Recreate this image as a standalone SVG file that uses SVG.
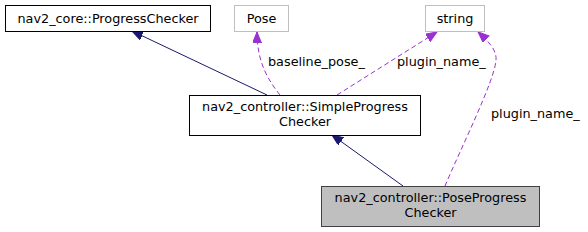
<svg xmlns="http://www.w3.org/2000/svg" width="588" height="232" viewBox="0 0 588 232">
<style>
text{font-family:"DejaVu Sans",sans-serif;font-size:12.8px;fill:#000}
.n{text-anchor:middle}
.box{fill:#fff;stroke:#000;stroke-width:1}
.ext{fill:#fff;stroke:#bfbfbf;stroke-width:1}
.cur{fill:#bfbfbf;stroke:#404040;stroke-width:1}
.inh{fill:none;stroke:#191970;stroke-width:1;marker-end:url(#an)}
.use{fill:none;stroke:#9a32cd;stroke-width:1;stroke-dasharray:5,3;marker-end:url(#ap)}
</style>
<defs>
<marker id="an" markerUnits="userSpaceOnUse" markerWidth="12" markerHeight="10" refX="11" refY="4.5" orient="auto"><path d="M0,0 L11,4.5 L0,9 z" fill="#191970" stroke="#191970"/></marker>
<marker id="ap" markerUnits="userSpaceOnUse" markerWidth="12" markerHeight="10" refX="11" refY="4.5" orient="auto"><path d="M0,0 L11,4.5 L0,9 z" fill="#9a32cd" stroke="#9a32cd"/></marker>
</defs>
<g id="edges">
<path class="inh" d="M267,95 L132,31"/>
<path class="use" d="M280,95 C268,80 257,62 257,32"/>
<path class="use" d="M337,95 L437,32"/>
<path class="use" d="M445,186 C460,150 495,80 496,60 C497,50 488,41 478,32"/>
<path class="inh" d="M403,186 L332,135"/>
<text x="268" y="66">baseline_pose_</text>
<text x="397" y="66">plugin_name_</text>
<text x="491" y="118">plugin_name_</text>
</g>
<g id="node-progresschecker">
<rect class="box" x="5.5" y="5.5" width="205" height="26"/>
<text class="n" x="108" y="23">nav2_core::ProgressChecker</text>
</g>
<g id="node-pose">
<rect class="ext" x="234.5" y="5.5" width="54" height="26"/>
<text class="n" x="261.5" y="23">Pose</text>
</g>
<g id="node-string">
<rect class="ext" x="425.5" y="5.5" width="59" height="26"/>
<text class="n" x="455" y="23">string</text>
</g>
<g id="node-simple">
<rect class="box" x="189.5" y="95.5" width="231" height="40"/>
<text class="n" x="305" y="111">nav2_controller::SimpleProgress</text>
<text class="n" x="305" y="126">Checker</text>
</g>
<g id="node-pose-progress">
<rect class="cur" x="321.5" y="186.5" width="218" height="40"/>
<text class="n" x="430.5" y="202">nav2_controller::PoseProgress</text>
<text class="n" x="430.5" y="217">Checker</text>
</g>
</svg>
